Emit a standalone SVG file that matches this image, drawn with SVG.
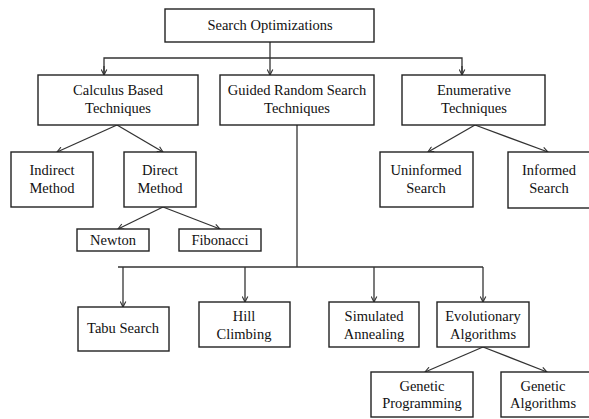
<svg xmlns="http://www.w3.org/2000/svg" width="589" height="419" viewBox="0 0 589 419">
<style>
rect{fill:#fff;stroke:#222;stroke-width:1.4}
text{font-family:'Liberation Serif','Times New Roman','DejaVu Serif',serif;font-size:14.5px;fill:#111;text-anchor:middle}
.c{fill:none;stroke:#333;stroke-width:1.3}
</style>
<defs>
<marker id="a" viewBox="0 0 10 10" refX="9" refY="5" markerWidth="7" markerHeight="7" orient="auto" markerUnits="userSpaceOnUse">
<path d="M1,1 L9,5 L1,9" fill="none" stroke="#333" stroke-width="1.6"/>
</marker>
</defs>
<rect x="-1" y="-1" width="591" height="421" style="stroke:none"/>
<g id="connectors">
<path class="c" d="M270,42 V75" marker-end="url(#a)"/>
<path class="c" d="M104,75 V58 H462 V75" />
<path class="c" d="M104,66 V75" marker-end="url(#a)"/>
<path class="c" d="M462,66 V75" marker-end="url(#a)"/>
<path class="c" d="M117,125 L57,152" marker-end="url(#a)"/>
<path class="c" d="M117,125 L163,152" marker-end="url(#a)"/>
<path class="c" d="M163,207 L118,229" marker-end="url(#a)"/>
<path class="c" d="M163,207 L220,229" marker-end="url(#a)"/>
<path class="c" d="M475,125 L428,152" marker-end="url(#a)"/>
<path class="c" d="M475,125 L548,152" marker-end="url(#a)"/>
<path class="c" d="M297,125 V267 M118,267 H483"/>
<path class="c" d="M123,267 V307" marker-end="url(#a)"/>
<path class="c" d="M245,267 V302" marker-end="url(#a)"/>
<path class="c" d="M374,267 V302" marker-end="url(#a)"/>
<path class="c" d="M483,267 V302" marker-end="url(#a)"/>
<path class="c" d="M483,347 L425,372" marker-end="url(#a)"/>
<path class="c" d="M483,347 L547,372" marker-end="url(#a)"/>
</g>
<g id="search-optimizations"><rect x="165" y="9" width="209" height="33"/><text x="270" y="30">Search Optimizations</text></g>
<g id="calculus"><rect x="38" y="75" width="160" height="50"/><text x="118" y="95">Calculus Based</text><text x="118" y="113">Techniques</text></g>
<g id="guided"><rect x="220" y="75" width="154" height="50"/><text x="297" y="95">Guided Random Search</text><text x="297" y="113">Techniques</text></g>
<g id="enumerative"><rect x="402" y="75" width="143" height="50"/><text x="474" y="95">Enumerative</text><text x="474" y="113">Techniques</text></g>
<g id="indirect"><rect x="11" y="152" width="82" height="55"/><text x="52" y="175">Indirect</text><text x="52" y="193">Method</text></g>
<g id="direct"><rect x="124" y="152" width="72" height="55"/><text x="160" y="175">Direct</text><text x="160" y="193">Method</text></g>
<g id="newton"><rect x="77" y="229" width="72" height="22"/><text x="113" y="245">Newton</text></g>
<g id="fibonacci"><rect x="179" y="229" width="82" height="22"/><text x="220" y="245">Fibonacci</text></g>
<g id="uninformed"><rect x="380" y="152" width="93" height="55"/><text x="426" y="175">Uninformed</text><text x="426" y="193">Search</text></g>
<g id="informed"><rect x="508" y="152" width="84" height="56"/><text x="549" y="175">Informed</text><text x="549" y="193">Search</text></g>
<g id="tabu"><rect x="78" y="307" width="91" height="44"/><text x="123" y="333">Tabu Search</text></g>
<g id="hill"><rect x="199" y="302" width="91" height="45"/><text x="244" y="321">Hill</text><text x="244" y="339">Climbing</text></g>
<g id="simulated"><rect x="329" y="302" width="90" height="45"/><text x="374" y="321">Simulated</text><text x="374" y="339">Annealing</text></g>
<g id="evolutionary"><rect x="437" y="302" width="92" height="45"/><text x="483" y="321">Evolutionary</text><text x="483" y="339">Algorithms</text></g>
<g id="genetic-programming"><rect x="371" y="372" width="102" height="45"/><text x="422" y="391">Genetic</text><text x="422" y="408">Programming</text></g>
<g id="genetic-algorithms"><rect x="501" y="372" width="91" height="45"/><text x="543" y="391">Genetic</text><text x="543" y="408">Algorithms</text></g>
</svg>
